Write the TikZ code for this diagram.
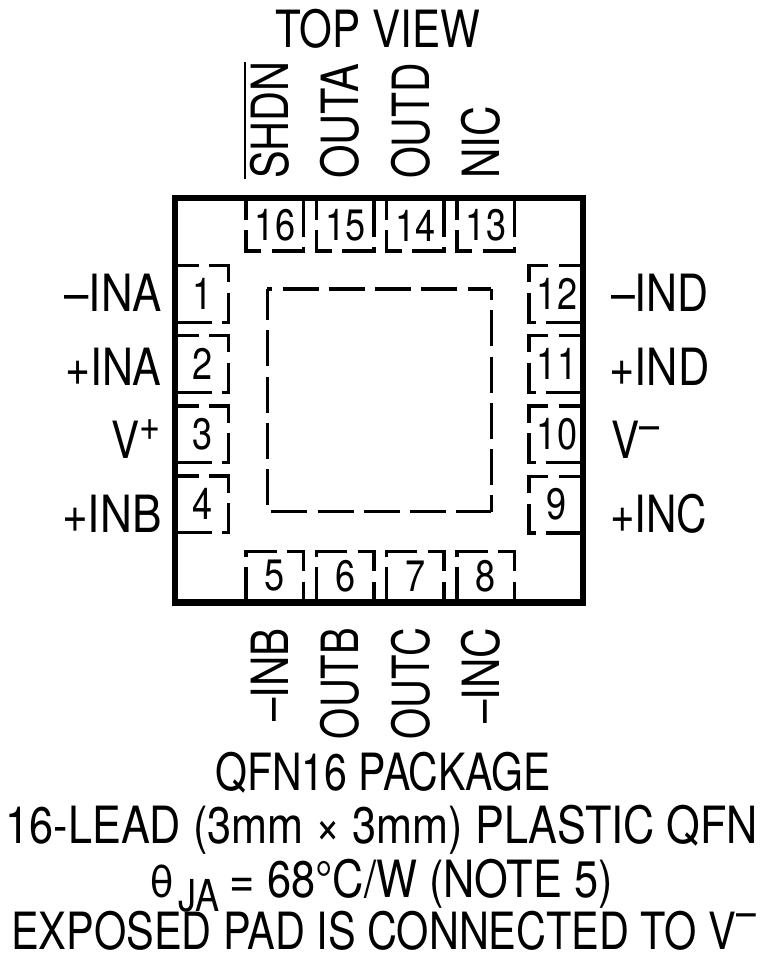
\documentclass[tikz,border=0pt]{standalone}
\usepackage{fontspec}
\usepackage{graphicx}
\setmainfont[FakeStretch=0.82]{TeX Gyre Heros}
\newcommand{\lbl}{\fontsize{38.5}{38.5}\selectfont}
\newcommand{\numf}{\fontsize{33}{33}\selectfont}
\newcommand{\obar}[1]{\vbox{\hrule height 1.7pt\kern 2.6pt\hbox{#1}}}
\newcommand{\sx}[2]{\scalebox{#1}[1]{#2}}
\newcommand{\supplus}{\raisebox{13pt}{\numf+}}
\newcommand{\supminus}[1]{\raisebox{#1}{\numf–}}
\tikzset{
 x=0.75pt,y=-0.75pt,
 frame/.style={line width=4.9pt,line join=miter},
 padline/.style={line width=2.4pt,line cap=butt,line join=miter,dash pattern=on 27pt off 7.7pt},
 lab/.style={inner sep=0pt,outer sep=0pt,font=\lbl},
 pinnum/.style={inner sep=0pt,outer sep=0pt,font=\numf,anchor=center},
}
\begin{document}
\begin{tikzpicture}
\useasboundingbox (0,0) rectangle (760,966);
% exposed pad
\coordinate (pa) at (267.3,289);
\coordinate (pb) at (491.3,289);
\coordinate (pc) at (491.3,511.7);
\coordinate (pd) at (267.3,511.7);
\draw[padline,dash phase=23.25pt] (pa) -- (pb);
\draw[padline,dash phase=18.75pt] (pb) -- (pc);
\draw[padline,dash phase=31.7pt] (pd) -- (pc);
\draw[padline,dash phase=3.75pt] (pa) -- (pd);
% top pads
\foreach \x/\n in {246/16,316.5/15,386.5/14,457/13}{
 \draw[padline,dash phase=12.75pt] (\x,201) -- (\x,251) -- (\x+57.5,251) -- (\x+57.5,201);
 \node[pinnum] (n\n) at (\x+29,225.5) {\n};
}
% bottom pads
\foreach \x/\n in {246/5,316.5/6,386.5/7,457/8}{
 \draw[padline,dash phase=3pt] (\x,599) -- (\x,551.7) -- (\x+57.5,551.7) -- (\x+57.5,599);
 \node[pinnum] (n\n) at (\x+29,576) {\n};
}
% left pads
\foreach \y/\n in {265.7/1,335.7/2,406/3,476/4}{
 \draw[padline,dash phase=11.25pt] (178,\y) -- (228.7,\y) -- (228.7,\y+56.5) -- (178,\y+56.5);
 \node[pinnum] (n\n) at (203,\y+28) {\n};
}
% right pads
\foreach \y/\n in {265.7/12,335.7/11,406/10,476.5/9}{
 \draw[padline,dash phase=11.25pt] (579.5,\y) -- (529,\y) -- (529,\y+56.5) -- (579.5,\y+56.5);
 \node[pinnum] (n\n) at (557,\y+28) {\n};
}
% frame
\node[draw,frame,outer sep=0pt,minimum width=306pt,minimum height=303.4pt,inner sep=0pt,anchor=north west] (pkg) at (175,198) {};
% title
\node[lab,anchor=base] (title) at (378,48) {TOP VIEW};
% top labels
\node[lab,rotate=90,anchor=base west] (t16) at (288,179) {\obar{\sx{0.985}{SHDN}}};
\node[lab,rotate=90,anchor=base west] (t15) at (358,179) {\sx{1.025}{OUTA}};
\node[lab,rotate=90,anchor=base west] (t14) at (429,179) {\sx{0.97}{OUTD}};
\node[lab,rotate=90,anchor=base west] (t13) at (499,179) {NIC};
% bottom labels
\node[lab,rotate=90,anchor=base east] (b5) at (288,628) {–INB};
\node[lab,rotate=90,anchor=base east] (b6) at (358,628) {\sx{0.95}{OUTB}};
\node[lab,rotate=90,anchor=base east] (b7) at (429,628) {\sx{0.95}{OUTC}};
\node[lab,rotate=90,anchor=base east] (b8) at (499,628) {–INC};
% left labels
\node[lab,anchor=base east] (l1) at (161.5,311) {\sx{1.04}{–INA}};
\node[lab,anchor=base east] (l2) at (161.5,385) {\sx{1.02}{+INA}};
\node[lab,anchor=base east] (l3) at (161,458) {V\supplus};
\node[lab,anchor=base east] (l4) at (161.5,532) {\sx{1.05}{+INB}};
% right labels
\node[lab,anchor=base west] (r12) at (611,311) {\sx{1.02}{–IND}};
\node[lab,anchor=base west] (r11) at (609.5,385) {\sx{1.03}{+IND}};
\node[lab,anchor=base west] (r10) at (611,458) {V\supminus{13.5pt}};
\node[lab,anchor=base west] (r9) at (610,532) {+INC};
% caption
\node[lab,anchor=base] (c1) at (383,790) {\sx{0.974}{QFN16 PACKAGE}};
\node[lab,anchor=base] (c2) at (382,843) {\sx{1.027}{16-LEAD (3mm × 3mm) PLASTIC QFN}};
\node[lab,anchor=base] (c3) at (381,897) {{\numf\sx{1.2}{θ}\kern3pt\raisebox{-10.5pt}{JA}}\kern8pt\sx{1.03}{= 68°C/W (NOTE 5)}};
\node[lab,anchor=base] (c4) at (383.5,949) {\sx{0.985}{EXPOSED PAD IS CONNECTED TO V\supminus{16.5pt}}};
\end{tikzpicture}
\end{document}
